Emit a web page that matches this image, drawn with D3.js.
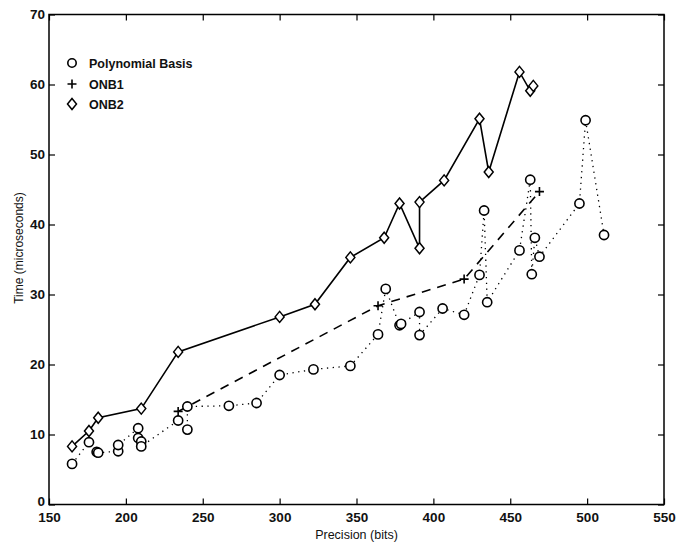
<!DOCTYPE html>
<html>
<head>
<meta charset="utf-8">
<script src="https://cdn.jsdelivr.net/npm/d3@7"></script>
<style>
  body { margin: 0; background: #fff; }
  text { font-family: "Liberation Sans", Arial, sans-serif; fill: #111; }
</style>
</head>
<body>
<svg width="679" height="547"></svg>
<script>
// Polynomial basis (circles, dotted)
const polyBits = [165, 176, 181, 182, 195, 195, 208, 208, 210, 210, 234, 240, 240, 267, 285,
  300, 322, 346, 364, 369, 378, 379, 391, 391, 406, 420, 430, 433, 435, 456, 463, 464, 466, 469, 495, 499, 511];
const polyTime = [5.8, 8.9, 7.5, 7.4, 7.6, 8.5, 10.9, 9.5, 9.0, 8.3, 12.0, 10.7, 14.0, 14.1, 14.5,
  18.5, 19.3, 19.8, 24.3, 30.8, 25.6, 25.8, 27.5, 24.2, 28.0, 27.1, 32.8, 42.0, 28.9, 36.3, 46.4, 32.9, 38.1, 35.4, 43.0, 54.9, 38.5];

// ONB1 (plus, dashed)
const onb1Bits = [234, 364, 420, 469];
const onb1Time = [13.3, 28.4, 32.2, 44.7];

// ONB2 (diamonds, solid)
const onb2Bits = [165, 176, 182, 210, 234, 300, 323, 346, 368, 378, 391, 391, 407, 430, 436, 456, 463, 465];
const onb2Time = [8.3, 10.5, 12.4, 13.7, 21.8, 26.8, 28.6, 35.3, 38.1, 43.0, 36.6, 43.2, 46.3, 55.1, 47.5, 61.8, 59.1, 59.8];

const xTicks = [150, 200, 250, 300, 350, 400, 450, 500, 550];
const yTicks = [0, 10, 20, 30, 40, 50, 60, 70];
const legendNames = ["Polynomial Basis", "ONB1", "ONB2"];

const svg = d3.select("svg");
const mLeft = 49, mRight = 664, mTop = 14.5, mBottom = 504.5;

const x = d3.scaleLinear().domain([150, 550]).range([mLeft, mRight]);
const y = d3.scaleLinear().domain([0, 70]).range([mBottom, mTop]);

const zip = (a, b) => a.map((v, i) => ({ x: v, y: b[i] }));
const poly = zip(polyBits, polyTime);
const onb1 = zip(onb1Bits, onb1Time);
const onb2 = zip(onb2Bits, onb2Time);

const line = d3.line().x(d => x(d.x)).y(d => y(d.y));

// frame
svg.append("rect")
    .attr("x", mLeft).attr("y", mTop)
    .attr("width", mRight - mLeft).attr("height", mBottom - mTop)
    .attr("fill", "none").attr("stroke", "#000").attr("stroke-width", 1.5);

// axes, ticks pointing inward
const tickLen = 6;
svg.append("g").attr("transform", `translate(0,${mBottom})`)
    .call(d3.axisBottom(x).tickValues(xTicks).tickSize(-tickLen).tickPadding(8))
    .call(g => g.select(".domain").remove());
svg.append("g").attr("transform", `translate(0,${mTop})`)
    .call(d3.axisTop(x).tickValues(xTicks).tickSize(-tickLen).tickFormat(""))
    .call(g => g.select(".domain").remove());
const yAxis = svg.append("g").attr("transform", `translate(${mLeft},0)`)
    .call(d3.axisLeft(y).tickValues(yTicks).tickSize(-tickLen).tickPadding(4))
    .call(g => g.select(".domain").remove());
svg.append("g").attr("transform", `translate(${mRight},0)`)
    .call(d3.axisRight(y).tickValues(yTicks).tickSize(-tickLen).tickFormat(""))
    .call(g => g.select(".domain").remove());

svg.selectAll(".tick line").attr("stroke", "#000").attr("stroke-width", 1.2);
svg.selectAll(".tick text")
    .attr("font-size", 13.5)
    .attr("font-family", "Liberation Sans, Arial, sans-serif")
    .attr("font-weight", "bold")
    .attr("fill", "#111");
// lift the "0" a little so it clears the "150" below it
yAxis.selectAll(".tick text").filter(d => d === 0).attr("dy", "0.1em");

// axis labels
svg.append("text")
    .attr("x", x(350)).attr("y", 539)
    .attr("text-anchor", "middle")
    .attr("font-size", 12.5)
    .text("Precision (bits)");
svg.append("text")
    .attr("transform", `translate(23,248) rotate(-90)`)
    .attr("text-anchor", "middle")
    .attr("font-size", 12)
    .text("Time (microseconds)");

// lines
svg.append("path").attr("d", line(poly))
    .attr("fill", "none").attr("stroke", "#000").attr("stroke-width", 1.3)
    .attr("stroke-dasharray", "1.3,4.5");
svg.append("path").attr("d", line(onb1))
    .attr("fill", "none").attr("stroke", "#000").attr("stroke-width", 1.6)
    .attr("stroke-dasharray", "9,7");
svg.append("path").attr("d", line(onb2))
    .attr("fill", "none").attr("stroke", "#000").attr("stroke-width", 1.6);

// markers
const diamond = "M0,-5.5L4.5,0L0,5.5L-4.5,0Z";
const plus = "M-4.5,0H4.5M0,-4.5V4.5";

svg.append("g").selectAll("circle").data(poly).join("circle")
    .attr("cx", d => x(d.x)).attr("cy", d => y(d.y)).attr("r", 4.6)
    .attr("fill", "#fff").attr("stroke", "#000").attr("stroke-width", 1.6);
svg.append("g").selectAll("path").data(onb1).join("path")
    .attr("transform", d => `translate(${x(d.x)},${y(d.y)})`)
    .attr("d", plus).attr("stroke", "#000").attr("stroke-width", 1.6);
svg.append("g").selectAll("path").data(onb2).join("path")
    .attr("transform", d => `translate(${x(d.x)},${y(d.y)})`)
    .attr("d", diamond).attr("fill", "#fff").attr("stroke", "#000").attr("stroke-width", 1.5);

// legend
const legend = svg.append("g");
const ly = [63, 84, 104];
legend.append("circle").attr("cx", 72).attr("cy", ly[0]).attr("r", 4.2)
    .attr("fill", "none").attr("stroke", "#000").attr("stroke-width", 1.6);
legend.append("path").attr("transform", `translate(72,${ly[1]})`).attr("d", plus)
    .attr("stroke", "#000").attr("stroke-width", 1.6);
legend.append("path").attr("transform", `translate(72,${ly[2]})`).attr("d", diamond)
    .attr("fill", "none").attr("stroke", "#000").attr("stroke-width", 1.5);
legend.selectAll("text").data(legendNames).join("text")
    .attr("x", 89).attr("y", (d, i) => ly[i] + 4.5)
    .attr("font-size", 12.5).attr("font-weight", "bold")
    .text(d => d);
</script>
</body>
</html>
